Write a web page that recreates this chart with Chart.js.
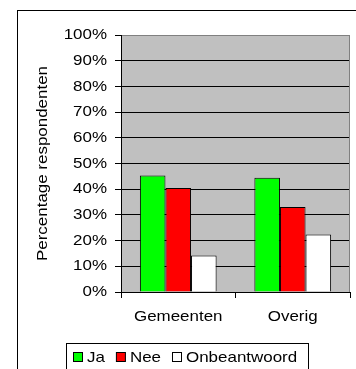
<!DOCTYPE html>
<html>
<head>
<meta charset="utf-8">
<script src="https://cdn.jsdelivr.net/npm/chart.js@4/dist/chart.umd.min.js"></script>
<style>
  html, body { margin: 0; padding: 0; background: #fff; }
  #wrap { width: 356px; height: 369px; position: relative; }
</style>
</head>
<body>
<div id="wrap"><canvas id="chart"></canvas></div>
<script>
// categories and answer shares (percent of respondents)
const categories = ['Gemeenten', 'Overig'];
const answers = ['Ja', 'Nee', 'Onbeantwoord'];
const jaValues = [45.3, 44.5];
const neeValues = [40.5, 33.1];
const onbeantwoordValues = [14.2, 22.4];
const answerColors = ['#00ff00', '#ff0000', '#ffffff'];
const yTicks = [0, 10, 20, 30, 40, 50, 60, 70, 80, 90, 100];

const FONT = "'Liberation Sans', Arial, sans-serif";
const TEXT_STRETCH = 1.13;

const canvas = document.getElementById('chart');
const ctx = canvas.getContext('2d');

// text in this chart is set slightly wide, so stretch every label along its own baseline
const baseFillText = ctx.fillText.bind(ctx);
ctx.fillText = function (text, x, y, maxWidth) {
    this.save();
    this.translate(x, y);
    this.scale(TEXT_STRETCH, 1);
    if (maxWidth !== undefined) baseFillText(text, 0, 0, maxWidth / TEXT_STRETCH);
    else baseFillText(text, 0, 0);
    this.restore();
};

const frame = {
    id: 'frame',
    beforeDraw(chart) {
        const c = chart.ctx, a = chart.chartArea;
        c.save();
        c.fillStyle = '#ffffff';
        c.fillRect(0, 0, chart.width, chart.height);
        c.fillStyle = '#c0c0c0';
        c.fillRect(a.left, a.top, a.right - a.left, a.bottom - a.top);
        c.restore();
    },
    beforeDatasetsDraw(chart) {
        const c = chart.ctx, a = chart.chartArea;
        c.save();
        c.strokeStyle = '#808080';
        c.lineWidth = 1;
        c.beginPath();
        c.moveTo(Math.round(a.right) - 0.5, a.top);
        c.lineTo(Math.round(a.right) - 0.5, a.bottom);
        c.stroke();
        c.restore();
    },
    afterDraw(chart) {
        const c = chart.ctx;
        c.save();
        c.strokeStyle = '#000000';
        c.lineWidth = 1;
        c.strokeRect(17.5, 10.5, 400, 400);

        // legend box along the bottom
        c.strokeRect(66.5, 343.5, 242, 40);
        c.font = '15px ' + FONT;
        c.textBaseline = 'middle';
        c.textAlign = 'left';
        let x = 73;
        const cy = 357;
        chart.data.datasets.forEach(ds => {
            c.fillStyle = ds.backgroundColor;
            c.fillRect(x + 0.5, cy - 4.5, 9, 9);
            c.strokeRect(x + 0.5, cy - 4.5, 9, 9);
            c.fillStyle = '#000000';
            c.fillText(ds.label, x + 14, cy + 1);
            x += 14 + c.measureText(ds.label).width * TEXT_STRETCH + 11;
        });
        c.restore();
    }
};

const seriesValues = [jaValues, neeValues, onbeantwoordValues];

new Chart(ctx, {
    type: 'bar',
    data: {
        labels: categories,
        datasets: answers.map((name, i) => ({
            label: name,
            data: seriesValues[i],
            backgroundColor: answerColors[i],
            borderColor: '#000000',
            borderWidth: 1,
            categoryPercentage: 0.67,
            barPercentage: 1.0
        }))
    },
    options: {
        responsive: true,
        maintainAspectRatio: false,
        animation: false,
        layout: { padding: { top: 35, right: 6, bottom: 0, left: 0 } },
        plugins: {
            legend: { display: false },
            tooltip: { enabled: false }
        },
        scales: {
            x: {
                grid: {
                    offset: true,
                    drawOnChartArea: false,
                    drawTicks: true,
                    tickLength: 6,
                    tickColor: '#000000'
                },
                border: { color: '#000000' },
                ticks: {
                    color: '#000000',
                    font: { family: FONT, size: 15 },
                    padding: 10,
                    maxRotation: 0
                },
                afterFit(scale) { scale.height = 77; }
            },
            y: {
                min: 0,
                max: 100,
                afterBuildTicks(scale) { scale.ticks = yTicks.map(v => ({ value: v })); },
                grid: {
                    color: c => (c.tick && c.tick.value === 100 ? '#808080' : '#000000'),
                    tickColor: '#000000',
                    tickLength: 6
                },
                border: { color: '#000000' },
                ticks: {
                    color: '#000000',
                    font: { family: FONT, size: 15 },
                    padding: 8,
                    callback: v => v + '%'
                },
                title: {
                    display: true,
                    text: 'Percentage respondenten',
                    color: '#000000',
                    font: { family: FONT, size: 15 },
                    padding: { top: 34, bottom: 0 }
                },
                afterFit(scale) { scale.width = 121; }
            }
        }
    },
    plugins: [frame]
});
</script>
</body>
</html>
